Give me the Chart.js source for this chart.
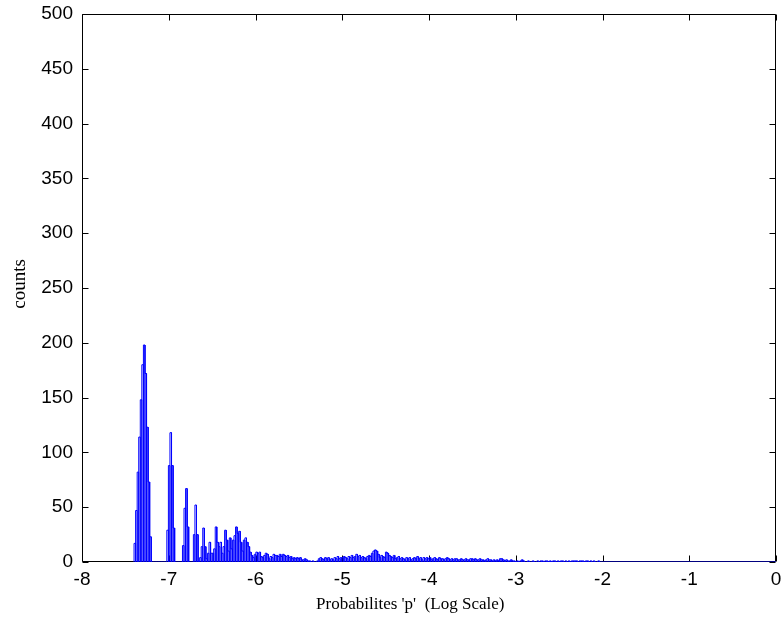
<!DOCTYPE html>
<html>
<head>
<meta charset="utf-8">
<title>counts</title>
<script src="https://cdn.jsdelivr.net/npm/chart.js@4/dist/chart.umd.min.js"></script>
<style>
  html, body { margin: 0; padding: 0; background: #fff; }
  #wrap { width: 782px; height: 622px; }
</style>
</head>
<body>
<div id="wrap"><canvas id="hist"></canvas></div>
<script>
// histogram bins: left edge of first bin and bin width (log10 p)
var binStart = -7.40;
var binWidth = 0.018;

// counts per bin, first bin at binStart
var counts = [
  17, 47, 82, 114, 148, 180, 198, 172, 123, 73, 23,
  0, 0, 0, 0, 0, 0, 0, 0, 0, 0,
  29, 88, 118, 88, 31,
  0, 0, 0, 0, 0,
  15, 49, 67, 32, 0,
  0, 0,
  25, 52, 25,
  0, 4,
  14, 31, 14,
  3,
  8, 18, 8,
  8,
  12, 32, 18,
  14, 18,
  8,
  14, 29, 20,
  10, 22,
  12, 20,
  24,
  32, 26,
  28, 18, 10,
  20, 22, 18, 14,
  9, 6, 4, 7,
  9, 8, 9,
  5, 4,
  6, 8, 7,
  3, 5, 4,
  7, 6,
  6, 5, 7, 5,
  7, 6, 5, 6,
  4, 5, 3,
  4, 3, 4,
  3, 4, 2,
  2, 3, 2, 1,
  1, 0, 1, 0, 0, 1,
  3, 4, 3,
  2, 4, 3, 4, 2, 3,
  2, 4, 3, 5, 3, 4,
  4, 5, 4, 3, 5, 4, 6, 4,
  5, 7, 5, 6,
  4, 5, 4, 3, 5, 6, 5,
  8, 10, 11, 10, 7,
  4, 6, 5, 4,
  9, 8, 6,
  5, 4, 6, 3, 4, 5,
  3, 4, 3, 2, 4, 3, 4, 2, 3,
  4, 3, 5, 3, 4, 2, 4, 3, 4,
  3, 4, 2, 3, 4, 3, 2, 4, 3, 3, 2, 3, 4,
  3, 2, 3, 2, 3, 3, 2, 2, 3, 2, 2, 3, 2, 2, 3,
  3, 2, 3, 2, 2, 3, 2, 2, 1, 2, 3, 2,
  2, 1, 2, 1, 2, 1,
  3, 3,
  2, 1, 2, 1, 1, 2, 1, 1,
  0, 1, 0, 1,
  2, 1,
  0, 0, 1, 0, 0, 1, 0, 0, 1, 0, 1,
  1, 0, 1, 1, 0, 1, 0, 1, 1, 0, 1, 0, 1, 1, 0, 1, 0, 1, 0, 1, 1,
  1, 1, 0, 1, 1, 1, 0, 1, 1, 0, 1,
  0, 1, 0, 0, 1, 0, 0
];

var xTicks = [-8, -7, -6, -5, -4, -3, -2, -1, 0];
var yTicks = [0, 50, 100, 150, 200, 250, 300, 350, 400, 450, 500];

var xLabel = "Probabilites 'p'  (Log Scale)";
var yLabel = "counts";

// outline every bar: up the left edge, across, down the right edge
function barOutline() {
  var pts = [];
  counts.forEach(function (c, i) {
    var x0 = binStart + i * binWidth;
    var x1 = x0 + binWidth;
    pts.push({x: x0, y: 0}, {x: x0, y: c}, {x: x1, y: c}, {x: x1, y: 0});
  });
  pts.push({x: xTicks[xTicks.length - 1], y: 0});
  return pts;
}

// box round the plot with short inward ticks on all four sides
var boxPlugin = {
  id: 'box',
  beforeDatasetsDraw: function (chart) {
    var ctx = chart.ctx;
    var a = chart.chartArea;
    var sx = chart.scales.x, sy = chart.scales.y;
    var L = Math.round(a.left) + 0.5, R = Math.round(a.right) - 0.5;
    var T = Math.round(a.top) + 0.5, B = Math.round(a.bottom) - 0.5;
    var len = 6;
    ctx.save();
    ctx.strokeStyle = '#000';
    ctx.lineWidth = 1;
    ctx.beginPath();
    ctx.rect(L, T, R - L, B - T);
    xTicks.forEach(function (v) {
      var px = Math.round(sx.getPixelForValue(v)) + 0.5;
      ctx.moveTo(px, B); ctx.lineTo(px, B - len);
      ctx.moveTo(px, T); ctx.lineTo(px, T + len);
    });
    yTicks.forEach(function (v) {
      var py = Math.round(sy.getPixelForValue(v)) + 0.5;
      ctx.moveTo(L, py); ctx.lineTo(L + len, py);
      ctx.moveTo(R, py); ctx.lineTo(R - len, py);
    });
    ctx.stroke();
    ctx.restore();
  },
  afterDraw: function (chart) {
    // axis labels, x label sits a little left of centre
    var ctx = chart.ctx;
    var a = chart.chartArea;
    ctx.save();
    ctx.fillStyle = '#000';
    ctx.textAlign = 'center';
    ctx.textBaseline = 'middle';
    ctx.font = "17px 'Liberation Serif', 'Times New Roman', serif";
    ctx.fillText(xLabel, a.left + a.width * 0.473, 605);
    ctx.translate(20, 284);
    ctx.rotate(-Math.PI / 2);
    ctx.font = "19px 'Liberation Serif', 'Times New Roman', serif";
    ctx.fillText(yLabel, 0, 0);
    ctx.restore();
  }
};

var tickFont = {family: "'Liberation Sans', Arial, sans-serif", size: 19};

var chart = new Chart(document.getElementById('hist'), {
  type: 'line',
  data: {
    datasets: [{
      data: barOutline(),
      borderColor: '#0000ff',
      borderWidth: 1,
      pointRadius: 0,
      tension: 0,
      fill: false
    }]
  },
  options: {
    responsive: true,
    maintainAspectRatio: false,
    animation: false,
    events: [],
    layout: {padding: {top: 14, right: 6, left: 0, bottom: 0}},
    plugins: {legend: {display: false}, tooltip: {enabled: false}},
    scales: {
      x: {
        type: 'linear',
        min: xTicks[0],
        max: xTicks[xTicks.length - 1],
        afterBuildTicks: function (s) { s.ticks = xTicks.map(function (v) { return {value: v}; }); },
        afterFit: function (s) { s.height = 60; s.paddingLeft = 0; s.paddingRight = 0; },
        grid: {display: false, drawTicks: false},
        border: {display: false},
        ticks: {color: '#000', font: tickFont, padding: 6, maxRotation: 0, autoSkip: false}
      },
      y: {
        type: 'linear',
        min: yTicks[0],
        max: yTicks[yTicks.length - 1],
        afterBuildTicks: function (s) { s.ticks = yTicks.map(function (v) { return {value: v}; }); },
        afterFit: function (s) { s.width = 82; s.paddingTop = 0; s.paddingBottom = 0; },
        grid: {display: false, drawTicks: false},
        border: {display: false},
        ticks: {color: '#000', font: tickFont, padding: 9, autoSkip: false}
      }
    }
  },
  plugins: [boxPlugin]
});
</script>
</body>
</html>
